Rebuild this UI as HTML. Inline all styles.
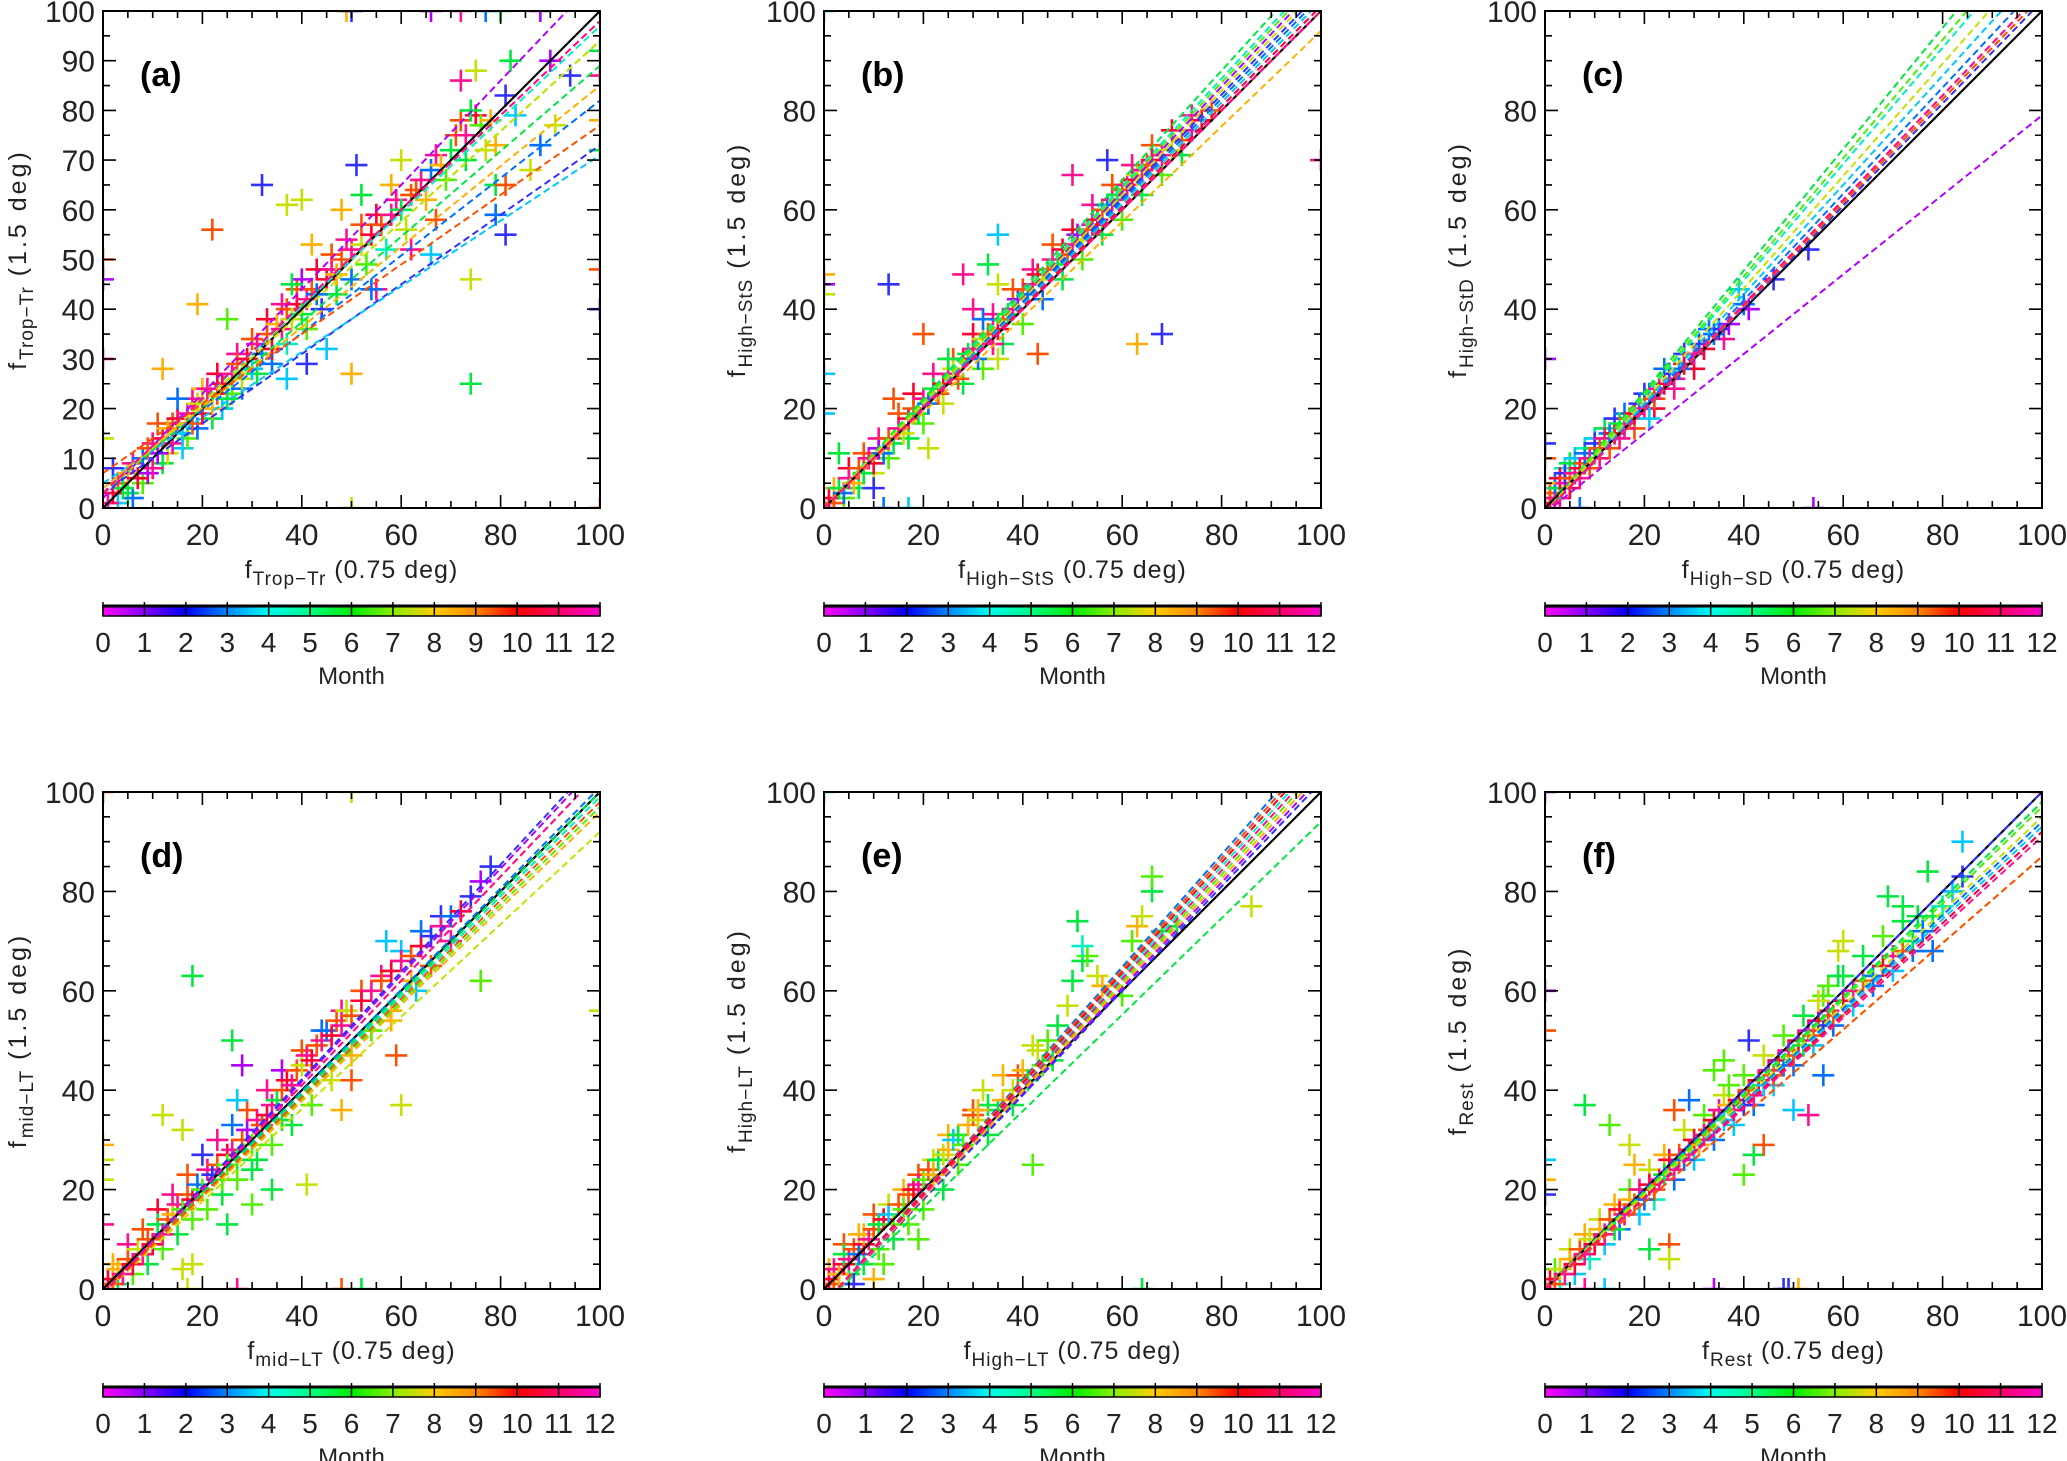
<!DOCTYPE html>
<html><head><meta charset="utf-8">
<style>
html,body{margin:0;padding:0;background:#fff;}
svg{display:block;font-family:"Liberation Sans",sans-serif;}
</style></head>
<body>
<svg id="fig" width="2067" height="1461" viewBox="0 0 2067 1461" xmlns="http://www.w3.org/2000/svg"></svg>
<script>
// ---- data: [x(0.75deg), y(1.5deg), month] ----
const ptsA = [[3,1,4],[5,3,6],[6,2,3],[8,5,7],[9,7,1],[10,13,12],[12,9,6],[13,11,8],[14,17,10],[16,12,4],[17,14,7],[18,22,12],[19,16,3],[20,24,9],[22,18,6],[23,27,11],[24,20,4],[26,23,7],[27,31,12],[28,24,3],[30,34,10],[31,27,6],[33,38,11],[34,29,3],[36,41,12],[37,33,5],[39,44,10],[41,36,7],[43,48,11],[44,40,2],[46,51,10],[47,43,6],[49,54,12],[50,46,3],[52,57,10],[53,49,7],[55,59,11],[57,52,5],[59,62,12],[61,56,8],[63,64,10],[65,62,9],[67,71,12],[69,66,7],[71,75,10],[73,70,6],[75,79,11],[77,72,8],
[1,1,12],[2,3,11],[3,5,10],[2,8,2],[4,4,6],[5,7,9],[6,9,12],[7,6,11],[8,10,3],[9,12,10],[10,8,12],[11,11,1],[12,14,11],[11,17,10],[13,16,9],[14,13,12],[15,18,11],[15,22,3],[16,15,4],[17,19,12],[18,17,10],[19,21,8],[20,19,11],[21,24,12],[22,20,9],[23,23,10],[24,25,11],[25,22,6],[26,27,12],[27,29,10],[28,26,8],[29,30,11],[30,28,4],[31,33,12],[32,31,3],[33,35,10],[34,32,11],[35,37,9],[36,36,12],[37,40,10],[38,38,8],[39,41,11],[40,39,6],[41,42,12],[42,44,10],[43,43,3],[45,46,11],[46,48,12],[47,47,9],[48,50,10],[50,52,12],[52,53,8],[54,55,11],[56,57,10],[58,59,12],[60,60,6],[62,63,10],[64,66,12],[66,68,3],[68,69,9],[70,72,6],[72,78,10],[73,75,12],[74,80,6],[76,77,7],[78,78,9],
[32,65,2],[22,56,10],[19,41,9],[37,61,8],[40,62,8],[51,69,2],[50,27,9],[74,25,6],[74,46,8],[81,55,2],[79,59,3],[83,79,4],[86,68,8],[88,73,3],[91,77,8],[94,87,2],[81,83,2],[82,90,6],[90,90,1],[75,88,8],[72,86,12],[45,32,4],[37,26,4],[41,29,2],[12,28,9],[25,38,7],[58,65,9],[60,70,8],[48,60,9],[52,63,6],[62,52,12],[66,51,4],[67,58,10],[79,65,6],[79,73,9],[81,65,10],[55,44,12],[54,44,3],[40,46,1],[42,53,9],[38,45,6],
[0,50,10],[0,46,1],[0,30,12],[0,14,8],[100,48,10],[100,40,2],[100,78,9],[100,87,12],[100,92,6],[100,72,6],[49,100,9],[50,100,2],[66,100,1],[72,100,12],[77,100,3],[80,100,6],[88,100,1],[50,0,8],[100,0,10]];
const ptsB = [[2,4,9],[4,2,7],[5,8,11],[7,4,6],[8,11,10],[10,7,8],[11,14,12],[13,10,7],[15,19,10],[17,14,6],[18,23,11],[20,17,7],[22,27,12],[24,21,8],[26,30,10],[28,25,6],[30,35,11],[32,28,7],[34,39,12],[36,33,6],[38,44,10],[40,37,7],[42,48,12],[44,42,3],[46,53,10],[48,46,6],[50,56,11],[52,50,7],[54,61,12],[56,55,6],[58,65,10],[60,58,7],[62,69,12],[64,63,6],[66,73,10],[68,67,7],[70,76,11],[72,71,6],[74,79,12],
[0,0,12],[1,2,11],[2,1,10],[3,4,6],[4,3,3],[5,6,12],[6,5,9],[7,8,10],[8,7,6],[9,10,12],[10,9,11],[11,12,1],[12,11,3],[13,14,10],[14,13,6],[15,16,12],[16,15,8],[17,18,11],[18,20,10],[19,19,6],[20,22,12],[21,21,3],[22,24,6],[23,23,10],[24,25,11],[25,27,12],[26,28,8],[27,26,10],[28,30,11],[29,31,6],[30,32,12],[31,30,3],[32,34,8],[33,35,10],[34,33,12],[35,36,11],[36,38,10],[37,39,6],[38,40,12],[39,42,1],[40,44,10],[41,43,3],[42,45,12],[43,47,11],[44,46,8],[45,48,10],[46,50,12],[47,49,6],[48,52,11],[49,51,10],[50,53,12],[51,55,1],[52,54,8],[53,56,10],[54,57,12],[55,58,11],[56,60,10],[57,61,3],[58,62,12],[59,63,6],[60,64,10],[61,65,12],[62,66,11],[63,67,8],[64,68,12],[65,69,10],[66,70,11],[68,71,12],[70,72,8],[72,74,10],[74,76,12],[76,78,11],[78,80,10],
[13,45,2],[35,55,4],[30,40,12],[28,47,12],[20,35,10],[32,38,3],[43,31,10],[63,33,9],[68,35,2],[57,70,2],[50,67,12],[33,49,6],[25,30,6],[35,30,8],[35,45,8],[10,4,2],[14,22,10],[3,11,6],[21,12,8],
[0,47,9],[0,45,1],[0,43,8],[0,27,4],[0,19,4],[0,100,4],[100,70,12],[17,0,4],[12,0,3]];
const ptsC = [[1,2,6],[2,4,4],[3,2,12],[4,8,5],[5,4,11],[6,9,6],[7,6,12],[8,12,5],[9,8,10],[10,14,4],[11,10,12],[12,16,6],[13,12,10],[14,18,2],[15,14,12],[16,19,3],[18,16,10],[20,23,2],[22,20,11],[24,28,3],[26,24,12],[28,31,2],[30,28,11],[33,36,3],[36,34,12],
[0,0,12],[1,1,11],[1,3,10],[2,2,12],[2,5,3],[3,4,6],[3,6,11],[4,5,12],[4,7,2],[5,6,10],[5,9,6],[6,7,12],[6,10,4],[7,8,11],[8,9,10],[8,11,3],[9,10,12],[10,12,6],[10,13,2],[11,12,10],[12,14,12],[13,15,3],[14,15,11],[15,17,6],[16,16,12],[17,18,10],[18,19,11],[19,21,2],[20,20,12],[21,23,3],[22,22,10],[23,24,12],[24,25,11],[25,27,2],[26,26,12],[27,28,3],[28,29,11],[30,31,12],[31,33,2],[32,32,11],[34,35,3],[35,36,2],[37,37,1],[40,41,3],[41,40,1],[46,46,2],[53,52,2],[21,18,4],[39,44,4],
[0,30,1],[0,13,2],[0,10,10],[0,5,9],[54,0,1],[7,0,3]];
const ptsD = [[2,5,9],[3,1,6],[5,9,12],[6,3,7],[8,12,10],[9,5,6],[11,16,11],[12,8,7],[14,19,12],[15,11,6],[17,23,10],[18,14,7],[20,27,2],[21,16,7],[23,30,12],[24,19,6],[26,33,3],[27,22,7],[29,36,10],[31,26,6],[33,40,12],[34,29,7],[36,44,1],[38,33,6],[40,48,10],[42,37,7],[44,52,3],[46,42,8],[48,56,12],[50,47,9],[52,60,10],[54,52,7],[56,63,12],[58,56,9],[60,68,4],[62,62,9],[64,72,3],[66,65,10],[68,75,2],[70,70,12],
[0,0,12],[1,2,11],[2,1,10],[3,4,9],[4,3,12],[5,6,10],[6,5,11],[7,8,8],[8,7,12],[9,10,10],[10,9,11],[11,13,6],[12,11,12],[13,14,10],[14,15,9],[15,17,12],[16,16,7],[17,19,10],[18,18,11],[19,21,3],[20,20,7],[21,24,12],[22,23,2],[23,25,10],[24,22,7],[25,27,11],[26,28,12],[27,26,6],[28,30,10],[29,32,1],[30,29,7],[31,34,12],[32,33,10],[33,35,11],[34,37,12],[35,38,6],[36,40,10],[37,42,11],[38,41,12],[39,44,10],[40,45,8],[41,47,12],[42,46,11],[43,49,10],[44,50,12],[45,52,3],[46,51,11],[47,54,10],[48,53,12],[49,56,8],[50,55,10],[52,58,11],[54,60,12],[56,62,10],[58,64,11],[60,66,12],[62,67,10],[64,69,11],[66,71,2],[68,73,12],[70,75,3],[72,76,11],[74,79,2],[76,82,1],[78,85,2],
[18,63,6],[26,50,6],[28,45,1],[25,13,6],[34,20,6],[41,21,8],[48,36,9],[50,42,10],[59,47,10],[60,37,8],[76,62,7],[12,35,8],[16,32,8],[27,38,4],[25,25,7],[30,24,6],[30,17,7],[36,34,6],[58,54,9],[63,60,4],[57,70,4],[18,5,8],[16,4,8],
[0,29,9],[0,26,8],[0,22,8],[0,13,12],[0,100,10],[50,100,8],[100,56,8],[100,100,9],[27,0,12],[48,0,10],[52,0,6],[17,0,8]];
const ptsE = [[1,4,9],[3,1,7],[4,9,10],[5,3,6],[7,11,9],[8,5,6],[10,15,10],[11,8,7],[13,17,8],[14,10,6],[16,20,9],[17,13,7],[19,23,10],[20,16,7],[22,26,8],[24,20,6],[25,31,9],[27,25,7],[30,36,10],[33,31,6],[36,43,9],[38,37,6],[42,49,8],[44,45,7],
[0,0,12],[1,2,11],[2,1,10],[2,4,12],[3,3,9],[4,5,11],[4,7,6],[5,6,12],[6,8,10],[7,7,3],[8,9,11],[8,11,9],[9,10,12],[10,12,10],[11,13,6],[12,14,11],[13,15,4],[14,13,7],[15,17,10],[16,16,7],[17,19,10],[18,20,11],[19,21,12],[20,22,7],[21,24,10],[22,23,9],[23,26,6],[24,27,8],[25,28,9],[26,30,4],[27,31,6],[28,29,7],[29,33,9],[30,35,10],[31,34,8],[33,37,6],[35,36,6],[36,38,9],[38,40,8],[39,43,10],[40,44,9],[41,42,6],[43,48,8],[45,50,7],[46,46,6],[47,53,6],[49,57,8],[50,62,6],[52,66,6],[53,67,7],[55,63,8],[56,61,9],[60,59,7],[62,70,7],[63,73,9],[64,75,8],[66,80,6],[68,72,6],[71,73,6],[51,74,6],[52,69,5],[66,83,7],[86,77,8],[42,25,7],[19,10,7],[12,5,7],[10,2,9],[6,1,2],[32,40,8],[31,36,9],
[0,100,6],[64,0,6]];
const ptsF = [[2,4,7],[3,1,5],[5,8,8],[6,3,4],[8,11,9],[9,6,5],[11,14,8],[12,9,4],[14,17,9],[15,12,3],[17,20,7],[19,15,4],[21,24,8],[22,18,5],[24,27,9],[26,22,3],[28,32,8],[30,26,4],[32,35,7],[34,30,3],[36,39,8],[38,33,4],[40,43,7],[42,37,3],[44,47,8],[46,41,4],[48,51,7],[50,45,3],[52,55,6],[54,49,4],[56,59,7],[58,53,3],[60,63,6],[62,57,4],[64,67,6],[66,61,3],[68,71,7],[70,64,4],[72,74,6],[74,68,3],
[0,0,12],[1,2,11],[2,1,10],[3,4,8],[4,3,12],[5,6,9],[6,5,11],[7,8,10],[8,7,12],[9,10,8],[10,9,11],[11,12,9],[12,11,12],[13,14,10],[14,12,6],[15,16,11],[16,15,12],[17,18,9],[18,17,10],[19,20,12],[20,18,3],[21,21,11],[22,20,10],[23,22,12],[24,23,6],[25,26,11],[26,24,12],[27,27,10],[28,26,3],[29,28,12],[30,30,11],[31,29,9],[32,31,12],[33,32,10],[34,34,11],[35,36,12],[36,34,4],[37,37,9],[38,36,12],[39,38,11],[40,37,2],[41,40,10],[42,39,12],[43,42,11],[44,41,4],[45,44,12],[46,43,10],[47,46,11],[48,45,3],[49,48,12],[50,47,10],[51,50,11],[52,49,6],[53,52,12],[54,51,10],[55,54,11],[56,53,2],[57,56,12],[58,55,10],[60,58,11],[62,60,12],[64,62,10],[66,63,3],[68,65,11],[70,67,12],[72,68,10],[74,70,6],[76,72,3],[78,75,6],[80,77,5],[82,80,4],[84,83,2],
[8,37,6],[13,33,7],[17,29,8],[18,25,9],[26,36,10],[29,38,3],[34,44,7],[36,46,7],[41,50,2],[37,41,7],[40,23,7],[42,27,6],[44,29,10],[53,35,12],[56,43,3],[50,36,4],[55,58,8],[57,61,7],[59,63,6],[59,68,8],[60,70,8],[69,79,6],[72,77,6],[77,84,6],[84,90,4],[75,75,6],[78,68,3],[25,9,10],[25,6,8],[21,8,6],
[0,60,1],[0,52,10],[0,26,4],[0,22,9],[0,19,2],[0,100,1],[100,100,10],[34,0,1],[48,0,2],[49,0,2],[51,0,9],[12,0,4],[8,0,12]];
// regression lines per month (1..12): intercept and value at x=100
const intA = [2,3,4,5,3,3,3,3,4,7,3,3];
const endA = [107,73,82,71,97,89,94,94,85,77,98,98];
const intB = [0,0,0,0,0,0,0,0,0,0,0,0];
const endB = [106,104,103,102,108,110,107,105,96,100,101,100];
const intC = [-1,-1,-1,-1,-1,-1,-1,-1,-1,-1,-1,-1];
const endC = [79,102,106,109,116,121,118,112,103,103,104,104];
const intD = [-1,-1,-1,-1,-1,-1,-1,-1,-1,-1,-1,-1];
const endD = [106,107,101,100,99,100,97,92,96,98,104,104];
const intE = [-3,-3,-3,-3,-3,-3,-3,-3,-3,-3,-3,-3];
const endE = [103,102,110,109,107,94,105,108,104,109,108,106];
const intF = [0,0,0,0,0,0,0,0,0,0,0,0];
const endF = [92,100,94,93,98,98,97,95,87,87,92,91];
const monthTicks = [0,1,2,3,4,5,6,7,8,9,10,11,12];
const monthColors = ['#b000ff','#3030ff','#0070ff','#00c8ff','#00f0c0','#00e840','#50f000','#c8e000','#ffb000','#ff5000','#ff0030','#ff1090'];
const barStops = ['#ff00ff','#8800ff','#0000ff','#0088ff','#00ffee','#00ff88','#00ee00','#88ee00','#ffcc00','#ff8800','#ff0000','#ff0066','#ff00cc'];

const NS = 'http://www.w3.org/2000/svg';
const svg = document.getElementById('fig');
function el(tag, attrs, parent){ const e=document.createElementNS(NS,tag); for(const k in attrs) e.setAttribute(k,attrs[k]); (parent||svg).appendChild(e); return e; }

const W=497, H=497;
const panels = [
 {id:'a',L:103,T:11,pts:ptsA,ints:intA,ends:endA,sub:'Trop\u2212Tr',ysub:'Trop\u2212Tr',yMaj:10,yLab:10,ytx:26},
 {id:'b',L:824,T:11,pts:ptsB,ints:intB,ends:endB,sub:'High\u2212StS',ysub:'High\u2212StS',yMaj:20,yLab:20,ytx:745},
 {id:'c',L:1545,T:11,pts:ptsC,ints:intC,ends:endC,sub:'High\u2212SD',ysub:'High\u2212StD',yMaj:20,yLab:20,ytx:1466},
 {id:'d',L:103,T:792,pts:ptsD,ints:intD,ends:endD,sub:'mid\u2212LT',ysub:'mid\u2212LT',yMaj:20,yLab:20,ytx:26},
 {id:'e',L:824,T:792,pts:ptsE,ints:intE,ends:endE,sub:'High\u2212LT',ysub:'High\u2212LT',yMaj:20,yLab:20,ytx:745},
 {id:'f',L:1545,T:792,pts:ptsF,ints:intF,ends:endF,sub:'Rest',ysub:'Rest',yMaj:20,yLab:20,ytx:1466}
];
const defs = el('defs',{});
const grad = el('linearGradient',{id:'mgrad',x1:'0',x2:'1',y1:'0',y2:'0'},defs);
barStops.forEach((c,i)=>el('stop',{offset:(i/12),'stop-color':c},grad));

panels.forEach(p=>{
  const g = el('g',{});
  
  
  const sx = v=>p.L+v/100*W, sy = v=>p.T+H-v/100*H;
  const cp = el('clipPath',{id:'clip'+p.id},defs);
  el('rect',{x:p.L,y:p.T,width:W,height:H},cp);
  // points
  const pg = el('g',{'clip-path':'url(#clip'+p.id+')'},g);
  p.pts.forEach(d=>{
    const x=sx(d[0]), y=sy(d[1]), c=monthColors[d[2]-1];
    const m = el('path',{d:`M${x-11} ${y}H${x+11}M${x} ${y-11}V${y+11}`,stroke:c,'stroke-width':2.6,fill:'none'},pg);
    
    
  });
  // one-to-one line
  const one = el('line',{x1:sx(0),y1:sy(0),x2:sx(100),y2:sy(100),stroke:'#000','stroke-width':2.2,'clip-path':'url(#clip'+p.id+')'},g);
  
  
  // fit lines
  p.ints.forEach((b,i)=>{
    const ln = el('line',{x1:sx(0),y1:sy(b),x2:sx(100),y2:sy(p.ends[i]),stroke:monthColors[i],'stroke-width':2,'stroke-dasharray':'7,4','clip-path':'url(#clip'+p.id+')'},g);
    
    
  });
  // frame
  const fr = el('rect',{x:p.L,y:p.T,width:W,height:H,fill:'none',stroke:'#000','stroke-width':2},g);
  
  
  // ticks
  let tp='';
  for(let v=0; v<=100; v+=5){
    const xl = (v%20===0)?13:7, yl=(v%p.yMaj===0)?13:7;
    tp+=`M${sx(v)} ${p.T+H}v${-xl}M${sx(v)} ${p.T}v${xl}`;
    tp+=`M${p.L} ${sy(v)}h${yl}M${p.L+W} ${sy(v)}h${-yl}`;
  }
  el('path',{d:tp,stroke:'#000','stroke-width':1.6,fill:'none'},g);
  const rowBase = p.T+H;
  for(let v=0; v<=100; v+=20){
    const t=el('text',{x:sx(v),y:rowBase+37,'font-size':30,'text-anchor':'middle',fill:'#222'},g);
    t.textContent=v;
    
    
  }
  for(let v=0; v<=100; v+=p.yLab){
    const t=el('text',{x:p.L-8,y:sy(v)+11,'font-size':30,'text-anchor':'end',fill:'#222'},g);
    t.textContent=v;
    
    
  }
  // panel label
  const pl = el('text',{x:p.L+37,y:p.T+75,'font-size':34,'font-weight':'bold'},g);
  pl.textContent='('+p.id+')';
  
  
  // x title
  const xt = el('text',{x:p.L+W/2,y:rowBase+70,'font-size':25,'text-anchor':'middle','letter-spacing':1,fill:'#222'},g);
  
  
  xt.innerHTML=`f<tspan font-size="19" dy="7">${p.sub}</tspan><tspan dy="-7"> (0.75 deg)</tspan>`;
  // y title
  const cy = p.T+H/2;
  const yt = el('text',{x:p.ytx,y:cy,'font-size':25,'text-anchor':'middle','letter-spacing':3,fill:'#222',transform:`rotate(-90 ${p.ytx} ${cy})`},g);
  
  
  yt.innerHTML=`f<tspan font-size="19" dy="7" letter-spacing="1">${p.ysub}</tspan><tspan dy="-7"> (1.5 deg)</tspan>`;
  // colorbar
  const cbY = rowBase + 98;
  const cb = el('g',{},g);
  
  
  el('rect',{x:p.L,y:cbY,width:W,height:10,fill:'url(#mgrad)',stroke:'#000','stroke-width':1.5},cb);
  el('line',{x1:p.L,y1:cbY,x2:p.L+W,y2:cbY,stroke:'#000','stroke-width':3},cb);
  monthTicks.forEach(m=>{
    const x=p.L+m/12*W;
    el('line',{x1:x,y1:cbY-4,x2:x,y2:cbY+10,stroke:'#000','stroke-width':1.5},cb);
    const t=el('text',{x:x,y:cbY+46,'font-size':28,'text-anchor':'middle',fill:'#222'},cb);
    t.textContent=m;
    
    
  });
  const mt=el('text',{x:p.L+W/2,y:cbY+78,'font-size':24,'text-anchor':'middle',fill:'#222'},cb);
  mt.textContent='Month';
  
  
});
</script>
</body></html>
